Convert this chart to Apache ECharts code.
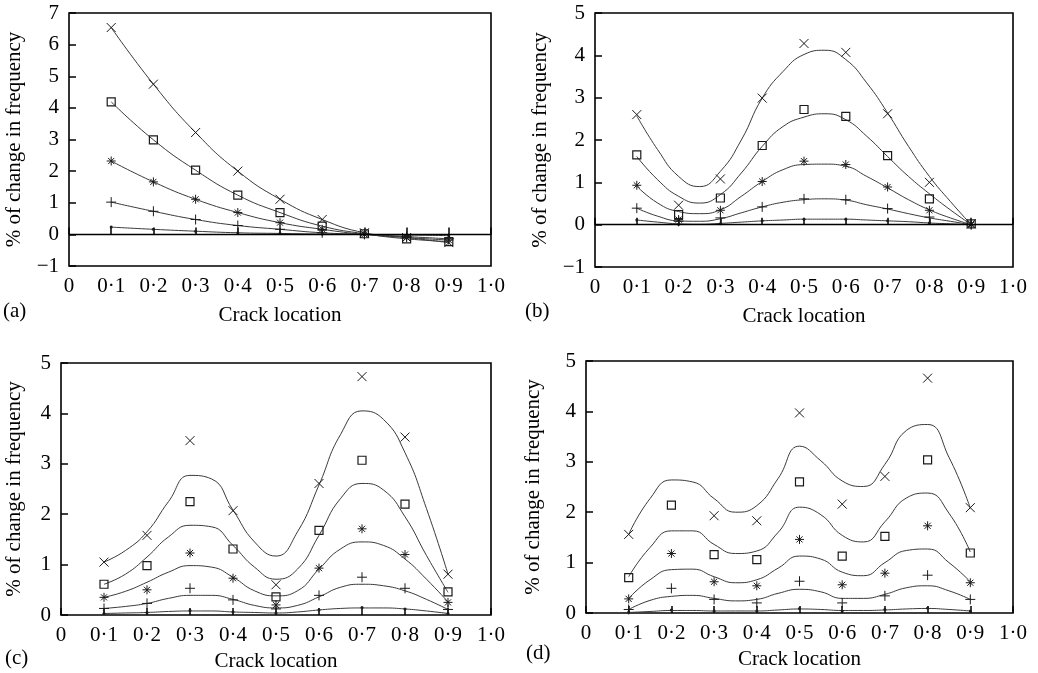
<!DOCTYPE html>
<html>
<head>
<meta charset="utf-8">
<script src="https://cdn.jsdelivr.net/npm/echarts@6/dist/echarts.min.js"></script>
<style>
html,body{margin:0;padding:0;background:#fff;}
#chart{width:1038px;height:673px;}
</style>
</head>
<body>
<div id="chart"></div>
<script>
// ---------- data ----------
const crackX = [0.1, 0.2, 0.3, 0.4, 0.5, 0.6, 0.7, 0.8, 0.9];
const knotX = [0.1, 0.15, 0.2, 0.25, 0.3, 0.35, 0.4, 0.45, 0.5, 0.55, 0.6, 0.65, 0.7, 0.75, 0.8, 0.85, 0.9];
const xTickLabels = ['0', '0·1', '0·2', '0·3', '0·4', '0·5', '0·6', '0·7', '0·8', '0·9', '1·0'];
const panelLabels = ['(a)', '(b)', '(c)', '(d)'];
const xName = 'Crack location';
const yName = '% of change in frequency';

// panel (a)
const aCross  = [6.54, 4.75, 3.22, 2.0, 1.11, 0.47, 0.05, -0.1, -0.26];
const aSquare = [4.19, 2.99, 2.03, 1.24, 0.69, 0.26, 0.02, -0.14, -0.23];
const aStar   = [2.32, 1.66, 1.11, 0.69, 0.37, 0.16, 0.0, -0.1, -0.18];
const aPlus   = [1.02, 0.73, 0.47, 0.28, 0.16, 0.05, 0.0, -0.07, -0.14];
const aDot    = [0.23, 0.16, 0.1, 0.05, 0.03, 0.01, 0.0, -0.02, -0.04];

// panel (b)
const bCross  = [2.6, 0.46, 1.08, 2.99, 4.28, 4.07, 2.62, 1.0, 0.02];
const bSquare = [1.65, 0.24, 0.63, 1.87, 2.72, 2.56, 1.63, 0.61, 0.02];
const bStar   = [0.93, 0.12, 0.34, 1.02, 1.5, 1.42, 0.89, 0.34, 0.0];
const bPlus   = [0.39, 0.08, 0.16, 0.42, 0.61, 0.59, 0.38, 0.18, 0.0];
const bDot    = [0.11, 0.01, 0.02, 0.09, 0.13, 0.13, 0.09, 0.04, 0.0];
const bCrossFit  = [2.57, 1.77, 1.14, 0.9, 1.26, 2.0, 2.99, 3.62, 4.02, 4.12, 3.9, 3.35, 2.64, 1.85, 1.14, 0.55, 0.0];
const bSquareFit = [1.61, 1.06, 0.67, 0.51, 0.71, 1.22, 1.85, 2.32, 2.54, 2.62, 2.48, 2.09, 1.61, 1.14, 0.73, 0.35, 0.0];
const bStarFit   = [0.91, 0.51, 0.31, 0.26, 0.35, 0.67, 1.02, 1.3, 1.42, 1.43, 1.38, 1.14, 0.87, 0.59, 0.35, 0.16, 0.0];
const bPlusFit   = [0.39, 0.2, 0.09, 0.08, 0.14, 0.28, 0.42, 0.53, 0.59, 0.61, 0.58, 0.47, 0.37, 0.26, 0.16, 0.08, 0.0];
const bDotFit    = [0.11, 0.06, 0.02, 0.01, 0.03, 0.06, 0.09, 0.11, 0.13, 0.13, 0.13, 0.11, 0.09, 0.07, 0.04, 0.02, 0.0];

// panel (c)
const cCross  = [1.05, 1.58, 3.46, 2.07, 0.6, 2.61, 4.73, 3.53, 0.81];
const cSquare = [0.61, 0.98, 2.25, 1.31, 0.36, 1.68, 3.07, 2.2, 0.46];
const cStar   = [0.35, 0.5, 1.23, 0.73, 0.2, 0.93, 1.71, 1.2, 0.25];
const cPlus   = [0.13, 0.23, 0.53, 0.3, 0.12, 0.39, 0.75, 0.53, 0.11];
const cDot    = [0.03, 0.05, 0.09, 0.06, 0.04, 0.1, 0.15, 0.12, 0.03];
const cCrossFit  = [1.05, 1.28, 1.65, 2.25, 2.77, 2.7, 2.08, 1.45, 1.17, 1.65, 2.58, 3.58, 4.05, 3.88, 3.22, 2.11, 0.81];
const cSquareFit = [0.61, 0.81, 1.15, 1.55, 1.78, 1.75, 1.38, 0.95, 0.71, 0.91, 1.58, 2.31, 2.61, 2.48, 1.95, 1.18, 0.45];
const cStarFit   = [0.35, 0.47, 0.65, 0.85, 0.98, 0.95, 0.75, 0.48, 0.38, 0.48, 0.91, 1.31, 1.45, 1.38, 1.11, 0.71, 0.26];
const cPlusFit   = [0.13, 0.17, 0.23, 0.33, 0.39, 0.39, 0.31, 0.19, 0.14, 0.19, 0.36, 0.55, 0.61, 0.58, 0.48, 0.31, 0.11];
const cDotFit    = [0.03, 0.04, 0.05, 0.07, 0.08, 0.08, 0.06, 0.05, 0.04, 0.06, 0.1, 0.13, 0.14, 0.14, 0.12, 0.08, 0.03];

// panel (d)
const dCross  = [1.56, null, 1.93, 1.83, 3.97, 2.16, 2.71, 4.66, 2.09];
const dSquare = [0.7, 2.14, 1.16, 1.06, 2.6, 1.13, 1.52, 3.04, 1.19];
const dStar   = [0.28, 1.18, 0.62, 0.54, 1.46, 0.56, 0.79, 1.73, 0.6];
const dPlus   = [0.07, 0.49, 0.27, 0.2, 0.63, 0.2, 0.34, 0.75, 0.27];
const dDot    = [0.02, 0.06, 0.04, 0.04, 0.09, 0.04, 0.07, 0.1, 0.04];
const dCrossFit  = [1.56, 2.27, 2.64, 2.6, 2.27, 2.0, 2.13, 2.67, 3.31, 3.02, 2.62, 2.51, 2.95, 3.62, 3.74, 3.09, 2.08];
const dSquareFit = [0.72, 1.3, 1.63, 1.63, 1.36, 1.18, 1.23, 1.6, 2.1, 1.95, 1.54, 1.41, 1.81, 2.28, 2.38, 1.98, 1.21];
const dStarFit   = [0.29, 0.66, 0.86, 0.87, 0.72, 0.6, 0.66, 0.89, 1.13, 1.07, 0.81, 0.74, 1.0, 1.24, 1.27, 1.0, 0.62];
const dPlusFit   = [0.07, 0.25, 0.33, 0.35, 0.29, 0.24, 0.27, 0.39, 0.47, 0.42, 0.29, 0.29, 0.37, 0.5, 0.54, 0.44, 0.27];
const dDotFit    = [0.01, 0.03, 0.05, 0.05, 0.04, 0.04, 0.04, 0.06, 0.08, 0.07, 0.05, 0.05, 0.06, 0.08, 0.09, 0.07, 0.04];

const yRanges = [[-1, 7], [-1, 5], [0, 5], [0, 5]];

// ---------- styling ----------
const FONT = '"Liberation Serif", "Times New Roman", serif';
const INK = '#1a1a1a';
const CURVE = '#3a3a3a';
const grids = [
  {left: 69, top: 13, width: 422, height: 253},
  {left: 595, top: 13, width: 418, height: 254},
  {left: 61, top: 363, width: 430, height: 252},
  {left: 586, top: 361, width: 427, height: 252}
];
const labelPos = [[3, 301], [525, 301], [5, 648], [526, 643]];

const markers = {
  cross:  {symbol: 'path://M0,0L10,10M10,0L0,10', size: 9, fill: 'transparent', bw: 1},
  square: {symbol: 'rect', size: 8, fill: 'transparent', bw: 1.2},
  star:   {symbol: 'path://M5,0L5,10M0,5L10,5M1.6,1.6L8.4,8.4M8.4,1.6L1.6,8.4', size: 9, fill: 'transparent', bw: 1},
  plus:   {symbol: 'path://M5,0L5,10M0,5L10,5', size: 10, fill: 'transparent', bw: 1},
  dot:    {symbol: 'circle', size: 3, fill: INK, bw: 0}
};
const kinds = ['cross', 'square', 'star', 'plus', 'dot'];

const panels = [
  {pts: [aCross, aSquare, aStar, aPlus, aDot], fitX: crackX, fits: [aCross, aSquare, aStar, aPlus, aDot], zero: true},
  {pts: [bCross, bSquare, bStar, bPlus, bDot], fitX: knotX, fits: [bCrossFit, bSquareFit, bStarFit, bPlusFit, bDotFit], zero: true},
  {pts: [cCross, cSquare, cStar, cPlus, cDot], fitX: knotX, fits: [cCrossFit, cSquareFit, cStarFit, cPlusFit, cDotFit], zero: false},
  {pts: [dCross, dSquare, dStar, dPlus, dDot], fitX: knotX, fits: [dCrossFit, dSquareFit, dStarFit, dPlusFit, dDotFit], zero: false}
];

function pairs(xs, ys) {
  return xs.map((x, i) => [x, ys[i]]).filter(p => p[1] !== null && p[1] !== undefined);
}

const option = {
  animation: false,
  backgroundColor: '#fff',
  grid: grids.map(g => Object.assign({show: true, borderColor: '#000', borderWidth: 1.6, backgroundColor: 'transparent', containLabel: false}, g)),
  xAxis: grids.map((g, i) => ({
    type: 'value', gridIndex: i, min: 0, max: 1, interval: 0.1,
    axisLine: {show: false},
    axisTick: {show: true, inside: true, length: 7, lineStyle: {color: '#000', width: 1.5}},
    splitLine: {show: false},
    axisLabel: {
      color: '#000', fontFamily: FONT, fontSize: 21, margin: 10,
      formatter: v => xTickLabels[Math.round(v * 10)]
    },
    name: xName, nameLocation: 'middle', nameGap: i < 2 ? 39 : 36,
    nameTextStyle: {color: '#000', fontFamily: FONT, fontSize: 21}
  })),
  yAxis: grids.map((g, i) => ({
    type: 'value', gridIndex: i, min: yRanges[i][0], max: yRanges[i][1], interval: 1,
    axisLine: {show: false},
    axisTick: {show: true, inside: true, length: 7, lineStyle: {color: '#000', width: 1.5}},
    splitLine: {show: false},
    axisLabel: {
      color: '#000', fontFamily: FONT, fontSize: 21, margin: 10,
      formatter: v => (v < 0 ? '\u2212' + Math.abs(v) : String(v))
    },
    name: yName, nameLocation: 'middle', nameRotate: 90, nameGap: i === 2 ? 36 : (i === 3 ? 42 : 44),
    nameTextStyle: {color: '#000', fontFamily: FONT, fontSize: 21}
  })),
  graphic: panelLabels.map((t, i) => ({
    type: 'text', left: labelPos[i][0], top: labelPos[i][1],
    style: {text: t, font: '21px ' + FONT, fill: '#000'}
  })),
  series: []
};

panels.forEach((p, gi) => {
  p.fits.forEach((ys, k) => {
    const s = {
      type: 'line', xAxisIndex: gi, yAxisIndex: gi,
      data: pairs(p.fitX, ys), smooth: 0.5, showSymbol: false, symbol: 'none',
      lineStyle: {color: CURVE, width: 1}, z: 2, silent: true
    };
    if (k === 0 && p.zero) {
      s.markLine = {
        silent: true, symbol: ['none', 'none'], label: {show: false},
        lineStyle: {color: '#000', type: 'solid', width: 1.3},
        data: [{yAxis: 0}]
      };
    }
    option.series.push(s);
  });
  p.pts.forEach((ys, k) => {
    const m = markers[kinds[k]];
    option.series.push({
      type: 'scatter', xAxisIndex: gi, yAxisIndex: gi,
      data: pairs(crackX, ys), symbol: m.symbol, symbolSize: m.size,
      itemStyle: {color: m.fill, borderColor: INK, borderWidth: m.bw, opacity: 1},
      z: 3, silent: true
    });
  });
});

const chart = echarts.init(document.getElementById('chart'), null, {renderer: 'canvas'});
chart.setOption(option);
</script>
</body>
</html>
